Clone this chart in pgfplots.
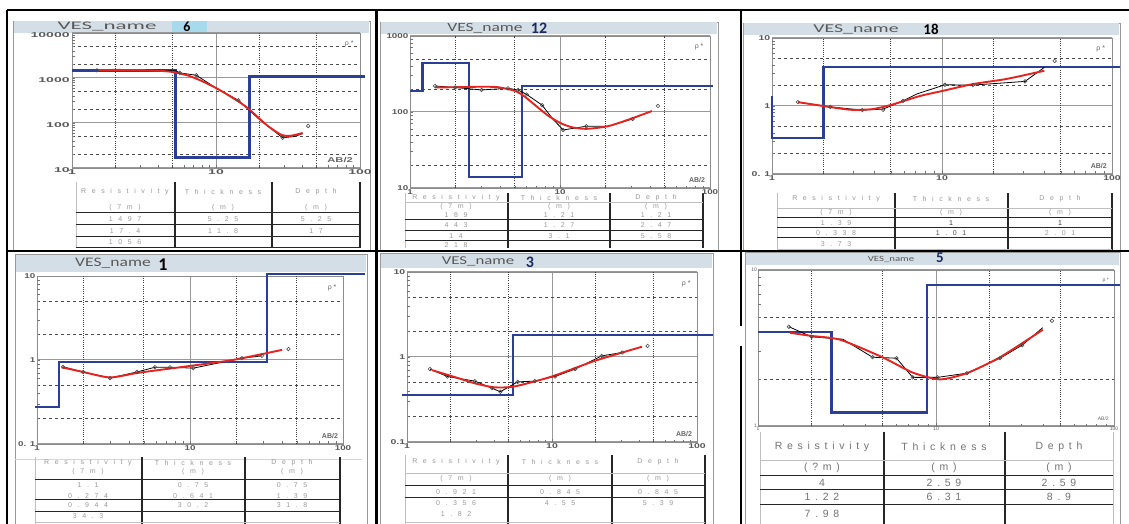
\documentclass[border=0pt]{standalone}
\usepackage{pgfplots}
\pgfplotsset{compat=1.18}
\usepackage{fontspec}
\setmainfont{Liberation Sans}
\setsansfont{Liberation Sans}
\newfontfamily\titlefont{Carlito}
\newfontfamily\tabfont[LetterSpace=80]{Liberation Sans}
\newfontfamily\tabfontB[LetterSpace=45]{Liberation Sans}
\definecolor{bar}{HTML}{D4DEE6}
\definecolor{modelblue}{HTML}{2B3F96}
\definecolor{fitred}{HTML}{E52320}
\definecolor{navy}{HTML}{1C2A5C}
\definecolor{hl}{HTML}{A6DAEC}
\newcommand\HL[4][]{\draw[#1] (#2pt,{(524-#4)*1pt}) -- (#3pt,{(524-#4)*1pt});}
\newcommand\VL[4][]{\draw[#1] (#2pt,{(524-#3)*1pt}) -- (#2pt,{(524-#4)*1pt});}
\newcommand\TT[4][]{\node[tabnode,#1] at (#2pt,{(524-#3)*1pt}) {#4};}
\newcommand\BX[5][]{\draw[#1] (#2pt,{(524-#3)*1pt}) rectangle (#4pt,{(524-#5)*1pt});}
\newcommand\FX[5][]{\fill[#1] (#2pt,{(524-#3)*1pt}) rectangle (#4pt,{(524-#5)*1pt});}
\newcommand\NN[4][]{\node[#1] at (#2pt,{(524-#3)*1pt}) {#4};}
% dotted vertical grid lines at 2,5,20,50 and small left ticks
\newcommand\vgrid[2]{\pgfplotsinvokeforeach{2,5,20,50}{\draw[vg] (axis cs:##1,#1) -- (axis cs:##1,#2);}}
\newcommand\ytk[1]{\pgfplotsinvokeforeach{#1}{\draw[black!55, line width=0.6pt] (axis cs:1,##1) -- ++(2.5pt,0pt);}}
\pgfplotsset{
 every axis/.append style={
  scale only axis, clip=false,
  axis line style={draw=black!45, line width=0.8pt},
  xmajorgrids=true, ymajorgrids=true, yminorgrids=true, xminorgrids=false,
  major grid style={draw=black!40, line width=1pt, solid},
  minor grid style={draw=black!70, line width=0.7pt, dash pattern=on 3pt off 3pt},
  tick pos=left, tick align=inside,
  tick style={draw=black!55, line width=0.6pt},
  major tick length=3pt, minor tick length=2.5pt,
  xtick={1,10,100}, xticklabels={1,10,100},
  minor xtick={2,3,4,5,6,7,8,9,20,30,40,50,60,70,80,90},
  tick label style={text=black!65, inner sep=1pt, font=\fontsize{7}{7}\selectfont\bfseries},
 },
}
\tikzset{
 modelline/.style={draw=modelblue, line width=2.2pt},
 fitline/.style={draw=fitred, line width=1.9pt, smooth, tension=0.4},
 obsline/.style={draw=black, line width=0.8pt},
 vg/.style={draw=black!75, line width=0.9pt, dash pattern=on 1pt off 1.2pt},
 tabnode/.style={font=\tabfont\fontsize{7}{8}\selectfont, text=black!40, inner sep=0pt},
 tabnodeB/.style={font=\tabfontB\fontsize{10.5}{12}\selectfont, text=black!55, inner sep=0pt},
 thk/.style={draw=black!85, line width=1.7pt},
 thn/.style={draw=black!85, line width=1pt},
 gry/.style={draw=black!25, line width=0.7pt},
 rho/.style={font=\fontsize{7}{7}\selectfont, text=black!60, anchor=north east},
 abl/.style={font=\fontsize{7}{7}\selectfont\bfseries, text=black!60, anchor=south east},
 ttl/.style={text=black!65},
}
\begin{document}
\begin{tikzpicture}
\path[use as bounding box] (0pt,0pt) rectangle (1129pt,524pt);
\fill[white] (0pt,0pt) rectangle (1129pt,524pt);
% panel frames and title bars
\BX[black!40, line width=0.8pt]{13}{21}{370}{250}
\FX[bar]{14}{21}{369}{33}
\BX[black!40, line width=0.8pt]{380}{22}{718}{250}
\FX[bar]{381}{22}{717}{34}
\BX[black!40, line width=0.8pt]{743}{23}{1120}{250}
\FX[bar]{744}{23}{1119}{35}
\BX[black!40, line width=0.8pt]{15}{254}{367}{524}
\FX[bar]{16}{255}{366}{272}
\BX[black!40, line width=0.8pt]{380}{253}{713}{524}
\FX[bar]{381}{254}{712}{268}
\BX[black!40, line width=0.8pt]{745}{252}{1120}{524}
\FX[bar]{746}{253}{1119}{265}
% outer black lines
\HL[black, line width=2.5pt]{7}{1129}{10}
\VL[black, line width=2.5pt]{7}{10}{524}
\VL[black, line width=2.5pt]{376.5}{10}{524}
\VL[black, line width=2.5pt]{741}{10}{524}
\HL[black, line width=2pt]{7}{1129}{251}
\FX[white]{738}{326}{744}{346}
% titles
\NN[ttl, font=\titlefont\fontsize{11.5}{12}\selectfont, xscale=2]{107}{26.5}{VES\_name}
\FX[hl]{172}{21}{207}{33}
\NN[font=\titlefont\bfseries\fontsize{14}{14}\selectfont]{187}{27}{6}
\NN[ttl, font=\titlefont\fontsize{12.5}{12}\selectfont, xscale=1.4]{485}{28}{VES\_name}
\NN[font=\titlefont\bfseries\fontsize{16}{16}\selectfont, text=navy]{539}{28}{12}
\NN[ttl, font=\titlefont\fontsize{12}{12}\selectfont, xscale=1.65]{856}{29}{VES\_name}
\NN[font=\titlefont\bfseries\fontsize{15}{15}\selectfont]{931}{29}{18}
\NN[ttl, font=\titlefont\fontsize{13}{13}\selectfont, xscale=1.35]{113}{263}{VES\_name}
\NN[font=\titlefont\bfseries\fontsize{18}{18}\selectfont]{163}{265}{1}
\NN[ttl, font=\titlefont\fontsize{12}{12}\selectfont, xscale=1.4]{478}{261}{VES\_name}
\NN[font=\titlefont\bfseries\fontsize{16}{16}\selectfont, text=navy]{530}{262}{3}
\NN[ttl, font=\titlefont\fontsize{8}{8}\selectfont, xscale=1.35]{891}{259}{VES\_name}
\NN[font=\titlefont\bfseries\fontsize{15}{15}\selectfont, text=navy]{940}{258}{5}

% ---------------- Tables ----------------
% P1
\VL[gry]{76}{182}{248}
\VL[thk]{175}{182}{248}\VL[thk]{272}{182}{248}\VL[thk]{360}{182}{248}
\HL[thn]{76}{360}{213}\HL[thn]{76}{360}{225}\HL[thn]{76}{360}{237}\HL[thn]{76}{360}{248}
\TT{125}{192}{Resistivity}\TT{223}{192}{Thickness}\TT{316}{192}{Depth}
\TT{125}{208}{(7m)}\TT{223}{208}{(m)}\TT{316}{208}{(m)}
\TT{125}{219}{1497}\TT{223}{219}{5.25}\TT{316}{219}{5.25}
\TT{125}{231}{17.4}\TT{223}{231}{11.8}\TT{316}{231}{17}
\TT{125}{242}{1056}
% P2
\VL[gry]{405}{193}{248}
\VL[thk]{508}{193}{248}\VL[thk]{610}{193}{248}\VL[thk]{703}{193}{248}
\HL[gry]{405}{703}{202}
\HL[thn]{405}{703}{220}\HL[thn]{405}{703}{231}\HL[thn]{405}{703}{241}
\TT{456}{198}{Resistivity}\TT{559}{198}{Thickness}\TT{656}{198}{Depth}
\TT{456}{207}{(7m)}\TT{559}{207}{(m)}\TT{656}{207}{(m)}
\TT{456}{215}{189}\TT{559}{215}{1.21}\TT{656}{215}{1.21}
\TT{456}{225}{443}\TT{559}{225}{1.27}\TT{656}{225}{2.47}
\TT{456}{236}{14}\TT{559}{236}{3.1}\TT{656}{236}{5.58}
\TT{456}{245}{218}
% P3
\VL[gry]{777}{193}{250}
\VL[thk]{895}{193}{250}\VL[thk]{1008}{193}{250}\VL[thk]{1112}{193}{250}
\HL[gry]{777}{1112}{208}
\HL[thn]{777}{1112}{218}\HL[thn]{777}{1112}{228}\HL[thn]{777}{1112}{238}\HL[gry]{777}{1112}{249}
\TT{836}{199}{Resistivity}\TT{951}{199}{Thickness}\TT{1060}{199}{Depth}
\TT{836}{213}{(7m)}\TT{951}{213}{(m)}\TT{1060}{213}{(m)}
\TT{836}{223}{1.39}\TT[text=black!80]{951}{223}{1}\TT[text=black!80]{1060}{223}{1}
\TT{836}{233}{0.338}\TT[text=black!70]{951}{233}{1.01}\TT{1060}{233}{2.01}
\TT{836}{244}{3.73}
% P4
\HL[draw=bar!70!black!40, line width=1pt]{15}{362}{460}
\VL[gry]{35}{457}{524}
\VL[thk]{142}{457}{524}\VL[thk]{245}{457}{524}\VL[thk]{340}{457}{524}
\HL[thn]{35}{340}{480}\HL[thn]{35}{340}{500}\HL[thn]{35}{340}{512}\HL[gry]{35}{340}{522}
\TT{88}{463}{Resistivity}\TT{193}{463}{Thickness}\TT{292}{463}{Depth}
\TT{88}{472}{(7m)}\TT{193}{472}{(m)}\TT{292}{472}{(m)}
\TT{88}{485}{1.1}\TT{193}{485}{0.75}\TT{292}{485}{0.75}
\TT{88}{496}{0.274}\TT{193}{496}{0.641}\TT{292}{496}{1.39}
\TT{88}{505}{0.944}\TT{193}{505}{30.2}\TT{292}{505}{31.8}
\TT{88}{516}{34.3}
% P5
\VL[gry]{405}{455}{524}
\VL[thk]{508}{455}{524}\VL[thk]{612}{455}{524}\VL[thk]{705}{455}{524}
\HL[gry]{405}{705}{473}\HL[thn]{405}{705}{486}\HL[thn]{405}{705}{498}\HL[gry]{405}{705}{522}
\TT{456}{462}{Resistivity}\TT{560}{462}{Thickness}\TT{658}{462}{Depth}
\TT{456}{479}{(7m)}\TT{560}{479}{(m)}\TT{658}{479}{(m)}
\TT{456}{492}{0.921}\TT{560}{492}{0.845}\TT{658}{492}{0.845}
\TT{456}{503}{0.356}\TT{560}{503}{4.55}\TT{658}{503}{5.39}
\TT{456}{514}{1.82}
% P6
\VL[gry]{760}{432}{524}
\VL[thk]{884}{432}{524}\VL[thk]{1005}{432}{524}\VL[gry]{1113}{432}{524}
\HL[gry]{760}{1113}{460}\HL[thn]{760}{1113}{476}\HL[thn]{760}{1113}{490}\HL[thn]{760}{1113}{505}
\TT[tabnodeB]{822}{447}{Resistivity}\TT[tabnodeB]{944}{447}{Thickness}\TT[tabnodeB]{1059}{447}{Depth}
\TT[tabnodeB]{822}{468}{(?m)}\TT[tabnodeB]{944}{468}{(m)}\TT[tabnodeB]{1059}{468}{(m)}
\TT[tabnodeB]{822}{483}{4}\TT[tabnodeB]{944}{483}{2.59}\TT[tabnodeB]{1059}{483}{2.59}
\TT[tabnodeB]{822}{497}{1.22}\TT[tabnodeB]{944}{497}{6.31}\TT[tabnodeB]{1059}{497}{8.9}
\TT[tabnodeB]{822}{514}{7.98}

% ---------------- Panel VES 6 ----------------
\begin{axis}[at={(72pt,356pt)}, anchor=south west, width=288pt, height=135pt,
  xmode=log, ymode=log, xmin=1, xmax=100,
  ymin=10, ymax=10000, ytick={10,100,1000,10000}, yticklabels={10,100,1000,10000},
  minor ytick={20,50,200,500,2000,5000},
  yticklabel style={xscale=2, yshift=-2.5pt}, xticklabel style={xscale=2}]
\vgrid{10}{10000}
\ytk{30,40,60,70,80,90,300,400,600,700,800,900,3000,4000,6000,7000,8000,9000}
\addplot[modelline, line width=3pt] coordinates {(1,1497) (5.25,1497) (5.25,17.4) (17,17.4) (17,1056) (108,1056)};
\addplot[obsline] coordinates {(1.49,1480) (3,1550) (5.25,1450) (5.6,1300) (7.3,1150) (10,600) (14.3,320) (20,120) (29,47) (35,50) (40,58)};
\addplot[only marks, mark=o, mark size=1.8pt, mark options={draw=black!70, fill=white, line width=0.6pt}] coordinates {(1.49,1480) (5.6,1300) (7.3,1150) (14.3,320) (29,47) (43.6,86)};
\addplot[fitline] coordinates {(1.5,1500) (2,1510) (3,1500) (4,1450) (5,1360) (6.3,1150) (7.7,900) (10,600) (13.1,360) (16.6,215) (22.5,90) (28.6,54) (33,52) (40,60)};
\node[rho] at (rel axis cs:0.99,0.97) {ρ *};
\node[abl, xscale=1.6] at (rel axis cs:0.995,0.01) {AB/2};
\end{axis}

% ---------------- Panel VES 12 ----------------
\begin{axis}[at={(410pt,336pt)}, anchor=south west, width=300pt, height=152pt,
  xmode=log, ymode=log, xmin=1, xmax=100,
  ymin=10, ymax=1000, ytick={10,100,1000}, yticklabels={10,100,1000},
  minor ytick={20,50,200,500},
  yticklabel style={xscale=1.4}, xticklabel style={xscale=1.4}]
\vgrid{10}{1000}
\ytk{30,40,60,70,80,90,300,400,600,700,800,900}
\addplot[modelline] coordinates {(1,189) (1.21,189) (1.21,443) (2.47,443) (2.47,14) (5.58,14) (5.58,218) (105,218)};
\addplot[obsline] coordinates {(1.47,220) (2,210) (3,195) (4.5,205) (5.25,195) (6,170) (7.6,123) (9,80) (10.5,58) (15,65) (21,65) (30.5,81)};
\addplot[only marks, mark=o, mark size=1.8pt, mark options={draw=black!70, fill=white, line width=0.6pt}] coordinates {(1.47,220) (2,210) (3,195) (4.5,205) (5.25,195) (6,170) (7.6,123) (10.5,58) (15,65) (30.5,81) (45,120)};
\addplot[fitline] coordinates {(1.47,210) (2,212) (3,215) (3.86,212) (5,190) (5.8,160) (7,118) (8.3,90) (10,72) (12,63) (15,60) (20.9,65) (30,82) (41,103)};
\node[rho] at (rel axis cs:0.99,0.97) {ρ *};
\node[abl] at (rel axis cs:0.995,0.01) {AB/2};
\end{axis}

% ---------------- Panel VES 18 ----------------
\begin{axis}[at={(772pt,350pt)}, anchor=south west, width=340pt, height=136pt,
  xmode=log, ymode=log, xmin=1, xmax=100,
  ymin=0.1, ymax=10, ytick={0.1,1,10}, yticklabels={0. 1,1,10},
  minor ytick={0.2,0.5,2,5},
  yticklabel style={xscale=1.5}, xticklabel style={xscale=1.5}]
\vgrid{0.1}{10}
\ytk{0.3,0.4,0.6,0.7,0.8,0.9,3,4,6,7,8,9}
\addplot[modelline] coordinates {(1,1.39) (1,0.338) (2.01,0.338) (2.01,3.73) (111,3.73)};
\addplot[obsline] coordinates {(1.42,1.14) (2.2,0.97) (3.4,0.87) (4.5,0.9) (5.9,1.19) (7.1,1.5) (10.4,2.05) (15.2,2.03) (30.8,2.3) (40,3.7)};
\addplot[only marks, mark=o, mark size=1.8pt, mark options={draw=black!70, fill=white, line width=0.6pt}] coordinates {(1.42,1.14) (2.2,0.97) (3.4,0.87) (4.5,0.88) (5.9,1.19) (10.4,2.05) (15.2,2.03) (30.8,2.3) (46,4.6)};
\addplot[fitline] coordinates {(1.42,1.14) (2,1.0) (2.9,0.88) (3.9,0.9) (5.1,1.05) (7.4,1.4) (10,1.66) (15.2,2.1) (24,2.5) (40,3.3)};
\node[rho] at (rel axis cs:0.99,0.97) {ρ *};
\node[abl] at (rel axis cs:0.995,0.01) {AB/2};
\end{axis}

% ---------------- Panel VES 1 ----------------
\begin{axis}[at={(37pt,80pt)}, anchor=south west, width=306pt, height=168pt,
  xmode=log, ymode=log, xmin=1, xmax=100,
  ymin=0.1, ymax=10, ytick={0.1,1,10}, yticklabels={0. 1,1,10},
  minor ytick={0.2,0.5,2,5},
  yticklabel style={xscale=1.4}, xticklabel style={xscale=1.4}]
\vgrid{0.1}{10}
\ytk{0.3,0.4,0.6,0.7,0.8,0.9,3,4,6,7,8,9}
\addplot[modelline] coordinates {(0.97,0.274) (1.39,0.274) (1.39,0.944) (31.8,0.944) (31.8,10.5) (139,10.5)};
\addplot[obsline] coordinates {(1.48,0.83) (2,0.72) (3,0.61) (4.5,0.72) (5.9,0.82) (7.4,0.82) (10.5,0.8) (21.8,1.05) (29.5,1.12)};
\addplot[only marks, mark=o, mark size=1.8pt, mark options={draw=black!70, fill=white, line width=0.6pt}] coordinates {(1.48,0.83) (2,0.72) (3,0.61) (4.5,0.72) (5.9,0.82) (7.4,0.82) (10.5,0.8) (21.8,1.05) (29.5,1.12) (44,1.35)};
\addplot[fitline] coordinates {(1.45,0.82) (2,0.72) (3,0.62) (4.5,0.70) (7,0.78) (10,0.85) (19,1.0) (40,1.32)};
\node[rho] at (rel axis cs:0.99,0.97) {ρ *};
\node[abl] at (rel axis cs:0.995,0.01) {AB/2};
\end{axis}

% ---------------- Panel VES 3 ----------------
\begin{axis}[at={(407pt,82pt)}, anchor=south west, width=290pt, height=170pt,
  xmode=log, ymode=log, xmin=1, xmax=100,
  ymin=0.1, ymax=10, ytick={0.1,1,10}, yticklabels={0.1,1,10},
  minor ytick={0.2,0.5,2,5},
  yticklabel style={xscale=1.5}, xticklabel style={xscale=1.5}]
\vgrid{0.1}{10}
\ytk{0.3,0.4,0.6,0.7,0.8,0.9,3,4,6,7,8,9}
\addplot[modelline] coordinates {(0.93,0.356) (5.39,0.356) (5.39,1.82) (129,1.82)};
\addplot[obsline] coordinates {(1.44,0.72) (1.9,0.59) (2.94,0.52) (3.85,0.43) (4.4,0.39) (5.8,0.51) (7.6,0.52) (10.5,0.59) (14.4,0.72) (22,1.03) (30.5,1.13)};
\addplot[only marks, mark=o, mark size=1.8pt, mark options={draw=black!70, fill=white, line width=0.6pt}] coordinates {(1.44,0.72) (1.9,0.59) (2.94,0.52) (3.85,0.43) (4.4,0.39) (5.8,0.51) (7.6,0.52) (10.5,0.59) (14.4,0.72) (22,1.03) (30.5,1.13) (45.6,1.35)};
\addplot[fitline] coordinates {(1.49,0.70) (2.14,0.58) (2.94,0.49) (4,0.44) (5.5,0.45) (10,0.59) (19.7,0.9) (41.7,1.32)};
\node[rho] at (rel axis cs:0.99,0.97) {ρ *};
\node[abl] at (rel axis cs:0.995,0.01) {AB/2};
\end{axis}

% ---------------- Panel VES 5 ----------------
\begin{axis}[at={(758pt,98pt)}, anchor=south west, width=356pt, height=156pt,
  xmode=log, ymode=log, xmin=1, xmax=100,
  ymin=1, ymax=10, ytick={1,10}, yticklabels={1,10},
  minor ytick={2,5},
  tick label style={font=\fontsize{5}{5}\selectfont}]
\vgrid{1}{10}
\ytk{3,4,6,7,8,9}
\addplot[modelline] coordinates {(1,4) (2.59,4) (2.59,1.22) (8.9,1.22) (8.9,7.98) (108,7.98)};
\addplot[obsline] coordinates {(1.49,4.33) (2,3.73) (3,3.6) (4.4,2.76) (6,2.72) (7.4,2.05) (10.2,2.05) (14.9,2.18) (22.9,2.72) (30.5,3.3) (39.8,4.27)};
\addplot[only marks, mark=o, mark size=1.8pt, mark options={draw=black!70, fill=white, line width=0.6pt}] coordinates {(1.49,4.33) (2,3.73) (4.4,2.76) (6,2.72) (7.4,2.05) (10.2,2.05) (14.9,2.18) (22.9,2.72) (30.5,3.3) (44.8,4.73)};
\addplot[fitline] coordinates {(1.51,3.96) (2,3.78) (2.9,3.57) (5,2.76) (7.4,2.2) (10.5,1.99) (14.9,2.18) (22.9,2.76) (39.8,4.14)};
\node[rho, font=\fontsize{5}{5}\selectfont] at (rel axis cs:0.995,0.97) {ρ *};
\node[abl, font=\fontsize{5}{5}\selectfont] at (rel axis cs:0.995,0.01) {AB/2};
\end{axis}
\end{tikzpicture}
\end{document}
